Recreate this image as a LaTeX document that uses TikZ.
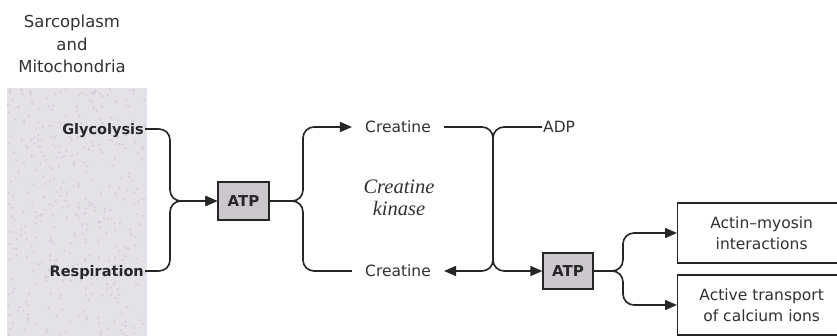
\documentclass[tikz,border=0pt]{standalone}
\usepackage{fontspec}
\setsansfont{DejaVu Sans}
\newfontfamily\kinfont{Liberation Serif}
\usetikzlibrary{arrows.meta}
\definecolor{ink}{RGB}{38,38,38}
\definecolor{txt}{RGB}{50,50,50}
\definecolor{zone}{RGB}{229,225,232}
\definecolor{speck}{RGB}{212,206,216}
\definecolor{atpfill}{RGB}{204,198,205}

\begin{document}
\begin{tikzpicture}[x=1pt,y=-1pt,
  conn/.style={draw=ink,line width=1.6pt,rounded corners=11pt},
  tip/.style={-{Triangle[length=12pt,width=10pt]}},
  lbl/.style={font=\sffamily\fontsize{15.5}{20}\selectfont,text=txt,inner sep=0pt,text depth=0pt},
  srclbl/.style={font=\sffamily\bfseries\fontsize{14.5}{18}\selectfont,text=ink,inner sep=1pt,text depth=0pt},
  atpbox/.style={draw=ink,line width=1.3pt,fill=atpfill,font=\sffamily\bfseries\fontsize{15}{18}\selectfont,text=ink,inner sep=0pt},
  outbox/.style={draw=ink,line width=1.3pt,fill=white,minimum width=168pt,minimum height=60pt,align=center,
    font=\sffamily\fontsize{15.5}{21}\selectfont,text=txt,inner sep=0pt}
]
\clip (0,0) rectangle (837,336);
\fill[white] (0,0) rectangle (837,336);

% compartment shading with a light stipple
\fill[zone] (7,88) rectangle (147,340);
\pgfmathsetseed{11}
\foreach \i in {1,...,420}{
  \pgfmathsetmacro{\px}{8+138*rnd}
  \pgfmathsetmacro{\py}{89+247*rnd}
  \fill[speck] (\px,\py) circle (1.3pt);
}
\node[lbl,align=center,font=\sffamily\fontsize{16.5}{22.5}\selectfont] (sarc) at (72,44) {Sarcoplasm\\and\\Mitochondria};

% ATP sources
\node[srclbl,anchor=east] (glyc) at (145,129) {Glycolysis};
\node[srclbl,anchor=east] (resp) at (145,271) {Respiration};
\node[atpbox,minimum width=51pt,minimum height=38pt] (atp1) at (243.5,201) {ATP};

% creatine kinase cycle
\node[lbl,inner xsep=13pt] (cr1) at (398,127) {Creatine};
\node[lbl,inner xsep=13pt] (cr2) at (398,271) {Creatine};
\node[align=center,font=\kinfont\itshape\fontsize{20.5}{22}\selectfont,text=txt,inner sep=0pt] (kin) at (399,198) {Creatine\\kinase};
\node[lbl,anchor=west,inner xsep=1pt] (adp) at (542,127) {ADP};
\node[atpbox,minimum width=50pt,minimum height=36pt] (atp2) at (568,271) {ATP};

% energy consumers
\node[outbox,anchor=west] (act) at (677,233) {Actin--myosin\\interactions};
\node[outbox,anchor=west] (cal) at (677,305) {Active transport\\of calcium ions};

% bend points
\coordinate (j1) at (170,201);
\coordinate (b1) at (303,127);
\coordinate (b2) at (303,271);
\coordinate (x1) at (493,127);
\coordinate (x2) at (493,271);
\coordinate (s1) at (623,233);
\coordinate (s2) at (623,305);

% connectors
\draw[conn,tip] (glyc.east) -| (j1) -- (atp1.west);
\draw[conn,tip] (resp.east) -| (j1) -- (atp1.west);
\draw[conn,tip] (atp1.east) -| (b1) -- (cr1.west);
\draw[conn] (atp1.east) -| (b2) -- (cr2.west);
\draw[conn,tip] (cr1.east) -- (x1) -- (x2) -- (cr2.east);
\draw[conn,tip] (adp.west) -- (x1) -- (x2) -- (atp2.west);
\draw[conn,tip] (atp2.east) -| (s1) -- (act.west);
\draw[conn,tip] (atp2.east) -| (s2) -- (cal.west);
\end{tikzpicture}
\end{document}
